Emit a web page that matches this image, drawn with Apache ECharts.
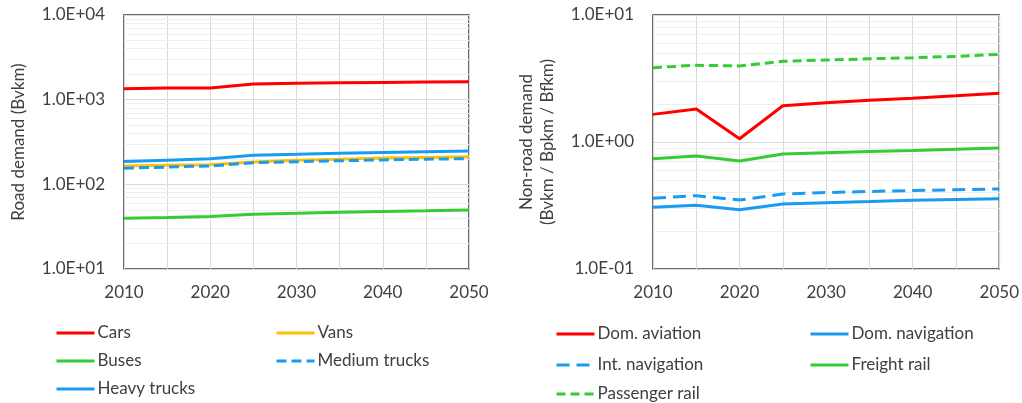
<!DOCTYPE html>
<html>
<head>
<meta charset="utf-8">
<script src="https://cdn.jsdelivr.net/npm/echarts@6/dist/echarts.min.js"></script>
<style>
  html, body { margin: 0; padding: 0; background: #fff; }
  #chart { width: 1022px; height: 403px; }
</style>
</head>
<body>
<div id="chart"></div>
<script>
// Years on the horizontal axis (5-year steps)
const years = [2010, 2015, 2020, 2025, 2030, 2035, 2040, 2045, 2050];

// Road demand, Bvkm
const cars         = [1350, 1370, 1375, 1530, 1560, 1580, 1600, 1620, 1630];
const vans         = [165, 168, 170, 184, 192, 198, 204, 208, 212];
const buses        = [39.8, 40.6, 41.6, 44.4, 45.5, 46.8, 47.8, 48.8, 49.9];
const mediumTrucks = [155, 160, 165, 180, 185, 190, 194, 198, 201];
const heavyTrucks  = [186, 193, 200, 220, 226, 233, 238, 243, 247];

// Non-road demand, Bvkm / Bpkm / Bfkm
const domAviation   = [1.65, 1.82, 1.06, 1.93, 2.04, 2.13, 2.21, 2.31, 2.42];
const domNavigation = [0.306, 0.317, 0.293, 0.325, 0.333, 0.340, 0.348, 0.353, 0.358];
const intNavigation = [0.360, 0.378, 0.349, 0.390, 0.400, 0.408, 0.415, 0.421, 0.427];
const freightRail   = [0.739, 0.776, 0.708, 0.805, 0.822, 0.840, 0.858, 0.878, 0.897];
const passengerRail = [3.85, 4.02, 3.97, 4.32, 4.42, 4.52, 4.61, 4.72, 4.90];

// Axis ranges and tick labels
const leftRange  = [10, 10000];
const rightRange = [0.1, 10];
const yearLabels = ['2010', '2020', '2030', '2040', '2050'];

const RED = '#FF0000', BLUE = '#1A9BF2', GREEN = '#33CC33', ORANGE = '#FFC000';
const TEXT = '#404040';
const FONT = 'Lato, "Liberation Sans", sans-serif';

// Light minor gridlines at 2..9 × each decade of a log range
function minorLines(range) {
  const out = [];
  const lo = Math.round(Math.log10(range[0]));
  const hi = Math.round(Math.log10(range[1]));
  for (let e = lo; e < hi; e++) {
    for (let m = 2; m <= 9; m++) out.push({ yAxis: m * Math.pow(10, e) });
  }
  return out;
}

function sciLabel(v) {
  const e = Math.round(Math.log10(v));
  const a = Math.abs(e);
  return '1.0E' + (e < 0 ? '-' : '+') + (a < 10 ? '0' : '') + a;
}

function pairs(vals) { return years.map((y, i) => [y, vals[i]]); }

function xAxis(gridIndex) {
  return {
    type: 'value', gridIndex, min: 2010, max: 2050, interval: 5,
    axisLine: { show: false }, axisTick: { show: false },
    axisLabel: {
      color: TEXT, fontFamily: FONT, fontSize: 17, margin: 15,
      formatter: v => yearLabels.includes(String(v)) ? String(v) : ''
    },
    splitLine: { show: true, lineStyle: { color: '#d9d9d9', width: 1 } }
  };
}

function yAxis(gridIndex, range, name, nameGap) {
  return {
    type: 'log', logBase: 10, gridIndex, min: range[0], max: range[1],
    name, nameLocation: 'middle', nameRotate: 90, nameGap,
    nameTextStyle: { color: TEXT, fontFamily: FONT, fontSize: 17, lineHeight: 21 },
    axisLine: { show: false }, axisTick: { show: false },
    axisLabel: { color: TEXT, fontFamily: FONT, fontSize: 17, margin: 19, formatter: sciLabel },
    splitLine: { show: true, lineStyle: { color: '#d9d9d9', width: 1 } }
  };
}

function line(name, vals, color, idx, dash) {
  return {
    name, type: 'line', xAxisIndex: idx, yAxisIndex: idx,
    data: pairs(vals), showSymbol: false, symbol: 'none', z: 5,
    lineStyle: { color, width: 3, type: dash || 'solid', cap: 'butt' },
    itemStyle: { color },
    animation: false
  };
}

function gridlineSeries(idx, range) {
  return {
    type: 'line', xAxisIndex: idx, yAxisIndex: idx, data: [], silent: true, z: 1,
    markLine: {
      silent: true, symbol: 'none', animation: false,
      label: { show: false },
      lineStyle: { color: '#eeeeee', width: 1, type: 'solid' },
      emphasis: { disabled: true },
      data: minorLines(range)
    }
  };
}

// One legend box per entry, so each key sits at its own spot
function legendItem(name, left, midY) {
  return {
    data: [name], left, top: midY - 10, orient: 'horizontal', padding: 0,
    itemWidth: 38, itemHeight: 20, selectedMode: false,
    itemStyle: { opacity: 0 },
    lineStyle: { width: 3 },
    textStyle: { color: TEXT, fontFamily: FONT, fontSize: 17, lineHeight: 20, padding: [0, 0, 0, -2] }
  };
}

const chart = echarts.init(document.getElementById('chart'), null, { renderer: 'canvas' });
chart.setOption({
  animation: false,
  backgroundColor: '#fff',
  grid: [
    { left: 124, right: 553, top: 15, bottom: 134, show: true, borderColor: '#3a3a3a', borderWidth: 1.5, backgroundColor: 'transparent' },
    { left: 653, right: 21,  top: 15, bottom: 134, show: true, borderColor: '#3a3a3a', borderWidth: 1.5, backgroundColor: 'transparent' }
  ],
  xAxis: [xAxis(0), xAxis(1)],
  yAxis: [
    yAxis(0, leftRange, 'Road demand (Bvkm)', 95),
    yAxis(1, rightRange, 'Non-road demand\n(Bvkm / Bpkm / Bfkm)', 95)
  ],
  legend: [
    legendItem('Cars', 55, 333),
    legendItem('Buses', 55, 361),
    legendItem('Heavy trucks', 55, 389),
    legendItem('Vans', 275, 333),
    legendItem('Medium trucks', 275, 361),
    legendItem('Dom. aviation', 555, 334),
    legendItem('Int. navigation', 555, 365),
    legendItem('Passenger rail', 555, 394),
    legendItem('Dom. navigation', 809, 334),
    legendItem('Freight rail', 809, 365)
  ],
  series: [
    gridlineSeries(0, leftRange),
    gridlineSeries(1, rightRange),
    line('Cars', cars, RED, 0),
    line('Vans', vans, ORANGE, 0),
    line('Buses', buses, GREEN, 0),
    line('Medium trucks', mediumTrucks, BLUE, 0, [10, 5]),
    line('Heavy trucks', heavyTrucks, BLUE, 0),
    line('Passenger rail', passengerRail, GREEN, 1, [9, 5]),
    line('Dom. aviation', domAviation, RED, 1),
    line('Freight rail', freightRail, GREEN, 1),
    line('Int. navigation', intNavigation, BLUE, 1, [13, 7]),
    line('Dom. navigation', domNavigation, BLUE, 1)
  ]
});
</script>
</body>
</html>
